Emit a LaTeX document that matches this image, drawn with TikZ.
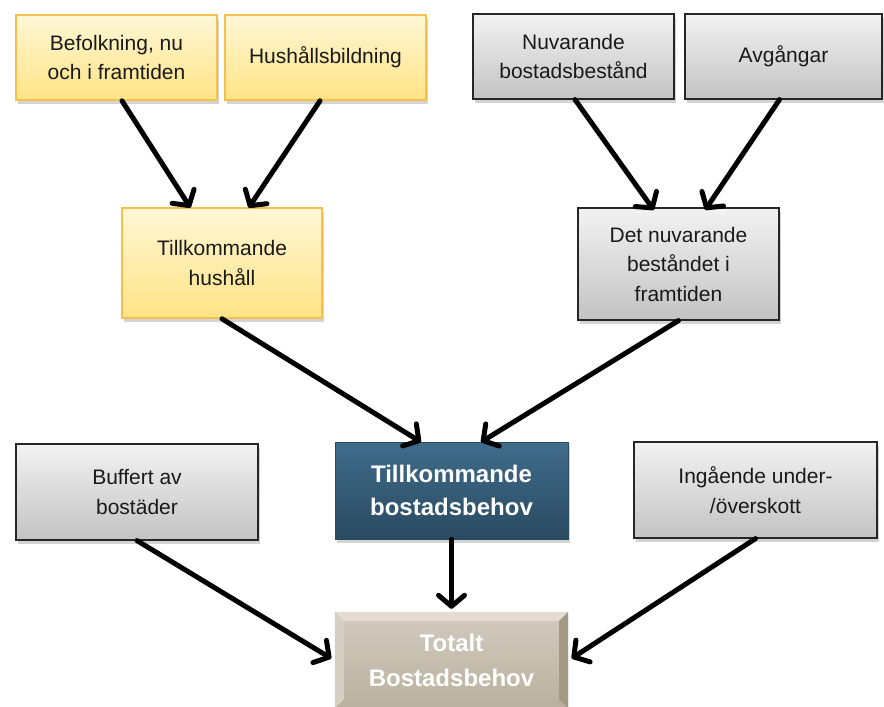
\documentclass[tikz,border=0pt]{standalone}
\usepackage{fontspec}
\setmainfont{Liberation Sans}
\usetikzlibrary{arrows.meta,shadows}
\definecolor{ylwtop}{HTML}{FFF7D6}
\definecolor{ylwbot}{HTML}{FFE385}
\definecolor{ylwline}{HTML}{F6C04E}
\definecolor{grytop}{HTML}{F2F2F2}
\definecolor{grybot}{HTML}{C3C3C3}
\definecolor{gryline}{HTML}{262626}
\definecolor{blutop}{HTML}{406C8B}
\definecolor{blubot}{HTML}{2A4A61}
\definecolor{begtop}{HTML}{D2CBBE}
\definecolor{begbot}{HTML}{BAB09F}
\definecolor{beglight}{HTML}{E2DCD2}
\definecolor{begdark}{HTML}{A39987}
\definecolor{txt}{HTML}{1A1A1A}
\tikzset{
  shd/.style={drop shadow={opacity=0.35,shadow xshift=2pt,shadow yshift=-4pt}},
  ybox/.style={shd,rectangle,draw=ylwline,line width=1.6pt,top color=ylwtop,bottom color=ylwbot,
    inner sep=0pt,align=center,text=txt,font=\fontsize{21}{29.5}\selectfont},
  gbox/.style={shd,rectangle,draw=gryline,line width=1.2pt,top color=grytop,bottom color=grybot,
    inner sep=0pt,align=center,text=txt,font=\fontsize{21}{29.5}\selectfont},
  bbox/.style={shd,rectangle,draw=blubot,line width=0.8pt,top color=blutop,bottom color=blubot,
    inner sep=0pt,align=center,text=white,font=\fontsize{24}{33}\selectfont\bfseries},
  tbox/.style={rectangle,top color=begtop,bottom color=begbot,
    inner sep=0pt,align=center,text=white,font=\fontsize{24}{35}\selectfont\bfseries},
  arr/.style={line width=5pt,line cap=round,-{Straight Barb[length=11pt,width=26pt,round]},shorten >=3pt}
}
\begin{document}
\begin{tikzpicture}[x=1pt,y=-1pt]
\useasboundingbox (0,0) rectangle (884,707);
\node[ybox,minimum width=201pt,minimum height=85pt] (b1) at (116.5,57.5) {Befolkning, nu\\och i framtiden};
\node[ybox,minimum width=201pt,minimum height=85pt] (b2) at (325.5,57.5) {Hushållsbildning};
\node[gbox,minimum width=201pt,minimum height=85pt] (b3) at (573.5,56.5) {Nuvarande\\bostadsbestånd};
\node[gbox,minimum width=197pt,minimum height=85pt] (b4) at (783.5,56.5) {Avgångar};
\node[ybox,minimum width=200pt,minimum height=110pt] (b5) at (222,263) {Tillkommande\\hushåll};
\node[gbox,minimum width=201pt,minimum height=112pt] (b6) at (678.5,264) {Det nuvarande\\beståndet i\\framtiden};
\node[bbox,minimum width=233pt,minimum height=97pt] (b7) at (451.5,490.5) {Tillkommande\\bostadsbehov};
\node[gbox,minimum width=242pt,minimum height=96pt] (b9) at (137,492) {Buffert av\\bostäder};
\node[gbox,minimum width=243pt,minimum height=96pt] (b10) at (755.5,490) {Ingående under-\\/överskott};
% bevelled total box
\node[tbox,minimum width=233pt,minimum height=96pt] (b8) at (451.5,660) {};
\fill[beglight] (b8.north west) -- (b8.north east) -- ([xshift=-9pt,yshift=-9pt]b8.north east) -- ([xshift=9pt,yshift=-9pt]b8.north west) -- cycle;
\fill[begtop!80!beglight] (b8.north west) -- ([xshift=9pt,yshift=-9pt]b8.north west) -- ([xshift=9pt,yshift=9pt]b8.south west) -- (b8.south west) -- cycle;
\fill[begdark] (b8.north east) -- (b8.south east) -- ([xshift=-9pt,yshift=9pt]b8.south east) -- ([xshift=-9pt,yshift=-9pt]b8.north east) -- cycle;
\node[align=center,text=white,font=\fontsize{24}{35}\selectfont\bfseries] (t8) at (b8.center) {Totalt\\Bostadsbehov};
% arrows
\draw[arr] ([xshift=5.5pt]b1.south) -- ([xshift=-30pt,yshift=-3pt]b5.north);
\draw[arr] ([xshift=-5.5pt]b2.south) -- ([xshift=25pt,yshift=-3pt]b5.north);
\draw[arr] ([xshift=1.5pt]b3.south) -- ([xshift=-23pt,yshift=-5pt]b6.north);
\draw[arr] ([xshift=-4pt]b4.south) -- ([xshift=25pt,yshift=-5pt]b6.north);
\draw[arr] (b5.south) -- ([xshift=-28pt,yshift=-2pt]b7.north);
\draw[arr] (b6.south) -- ([xshift=27pt,yshift=-2pt]b7.north);
\draw[arr] (b7.south) -- (b8.north);
\draw[arr] (b9.south) -- ([xshift=-1pt]b8.west);
\draw[arr] (b10.south) -- ([xshift=1pt]b8.east);
\end{tikzpicture}
\end{document}
